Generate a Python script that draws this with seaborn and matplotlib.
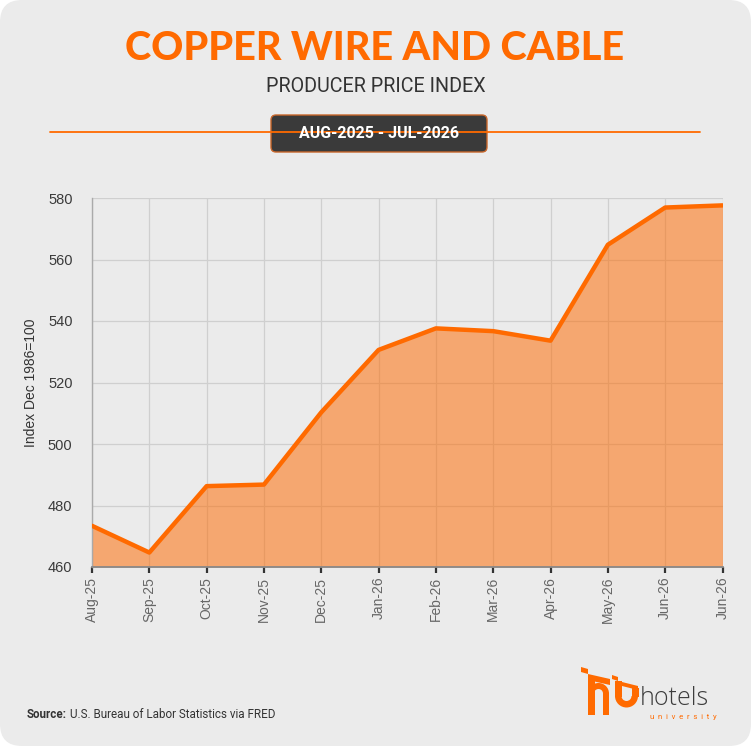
import matplotlib
matplotlib.use("Agg")
import matplotlib.pyplot as plt
import seaborn as sns
import pandas as pd
from matplotlib.patches import FancyBboxPatch, Rectangle, Wedge, Polygon

# chart data
months = ["Aug-25", "Sep-25", "Oct-25", "Nov-25", "Dec-25", "Jan-26",
          "Feb-26", "Mar-26", "Apr-26", "May-26", "Jun-26", "Jun-26"]
ppi = [473.4, 464.7, 486.3, 486.8, 510.3, 530.6,
       537.6, 536.7, 533.6, 564.8, 576.9, 577.6]
y_ticks = [460, 480, 500, 520, 540, 560, 580]

ORANGE = "#ff6a00"
BG = "#ebebeb"
W, H = 751, 746

sns.set_style("white")
plt.rcParams["font.family"] = ["Liberation Sans", "DejaVu Sans"]

df = pd.DataFrame({"pos": range(len(months)), "ppi": ppi})

fig = plt.figure(figsize=(W / 100, H / 100), dpi=100)
fig.patch.set_facecolor("white")

# background layer in pixel coords (y down)
bg = fig.add_axes([0, 0, 1, 1], zorder=0)
bg.set_xlim(0, W)
bg.set_ylim(H, 0)
bg.axis("off")
bg.add_patch(FancyBboxPatch((0, 0), W, H, boxstyle="round,pad=0,rounding_size=22",
                            fc=BG, ec="none"))

# title block
bg.text(W / 2 - 1, 48, "COPPER WIRE AND CABLE", ha="center", va="center",
        fontsize=28.5, color=ORANGE, family=["Lato", "DejaVu Sans"], weight="black")
bg.text(W / 2, 87, "PRODUCER PRICE INDEX", ha="center", va="center",
        fontsize=14.2, color="#333333", family=["Roboto", "DejaVu Sans"])
bg.plot([50, 700], [132, 132], color=ORANGE, lw=1.3)
bg.add_patch(FancyBboxPatch((271, 115), 216, 37, boxstyle="round,pad=0,rounding_size=5",
                            fc="#3a3a3a", ec="#c8662a", lw=1))
bg.text(379, 134, "AUG-2025 - JUL-2026", ha="center", va="center",
        fontsize=11.5, color="white", family=["Roboto", "DejaVu Sans"], weight="bold")

# source line
src = bg.text(27, 714, "Source:", ha="left", va="center", fontsize=8.4,
              color="#333333", family=["Roboto", "DejaVu Sans"], weight="bold")
fig.canvas.draw()
bb = src.get_window_extent().transformed(bg.transData.inverted())
bg.text(bb.x1 + 3, 714, "U.S. Bureau of Labor Statistics via FRED", ha="left", va="center",
        fontsize=8.4, color="#333333", family=["Roboto", "DejaVu Sans"])

# logo, roughly (y axis is flipped, so 180-360 draws an arch)
bg.add_patch(Polygon([(581, 667), (588, 669), (588, 674), (581, 672)], fc=ORANGE, ec="none"))
bg.add_patch(Polygon([(588, 674), (610, 679), (610, 685), (588, 680)], fc=ORANGE, ec="none"))
bg.add_patch(Rectangle((588, 678), 6.5, 37, fc=ORANGE, ec="none"))
bg.add_patch(Wedge((598.5, 693.5), 10.5, 180, 360, width=6, fc=ORANGE, ec="none"))
bg.add_patch(Rectangle((603, 693), 6, 22, fc=ORANGE, ec="none"))
bg.add_patch(Polygon([(612, 675), (618, 677), (618, 681), (612, 679)], fc=ORANGE, ec="none"))
bg.add_patch(Polygon([(618, 681), (638, 686), (638, 690), (618, 685)], fc=ORANGE, ec="none"))
bg.add_patch(Rectangle((615, 681), 6.5, 16, fc=ORANGE, ec="none"))
bg.add_patch(Wedge((626.5, 696), 11.5, 0, 180, width=6.5, fc=ORANGE, ec="none"))
bg.add_patch(Rectangle((632, 688), 6.5, 9, fc=ORANGE, ec="none"))
bg.text(640, 705, "hotels", ha="left", va="baseline", fontsize=18,
        color="#3c3c3c", family=["Open Sans", "DejaVu Sans"], weight="light")
bg.text(683, 717, "u  n  i  v  e  r  s  i  t  y", ha="center", va="center", fontsize=5.6,
        color=ORANGE, family=["Roboto", "DejaVu Sans"])

# chart
ax = fig.add_axes([92 / W, 1 - 567 / H, 630.5 / W, 369 / H], zorder=1)
ax.set_facecolor("none")
ax.fill_between(df["pos"], df["ppi"], 460, color=ORANGE, alpha=0.52, lw=0, zorder=1)
sns.lineplot(data=df, x="pos", y="ppi", ax=ax, color=ORANGE, lw=3.2, zorder=3)

ax.set_xlim(0, len(months) - 1)
ax.set_ylim(460, 580)
ax.set_yticks(y_ticks)
ax.set_xticks(df["pos"])
ax.set_xticklabels(months, rotation=90)
ax.grid(True, color="#cfcfcf", lw=0.9, zorder=0)
ax.set_axisbelow(True)
ax.set_xlabel("")
ax.set_ylabel("Index Dec 1986=100", fontsize=10, color="#333333", labelpad=7)

ax.tick_params(axis="y", length=0, pad=14, labelsize=10.5, labelcolor="#3a3a3a")
ax.tick_params(axis="x", length=4, width=1.6, color="#333333", pad=3,
               labelsize=10, labelcolor="#666666", bottom=True)
for s in ["top", "right"]:
    ax.spines[s].set_visible(False)
ax.spines["left"].set_color("#aaaaaa")
ax.spines["left"].set_linewidth(1)
ax.spines["bottom"].set_color("#888888")
ax.spines["bottom"].set_linewidth(1.3)

fig.savefig("out.png", dpi=100, facecolor="white")
